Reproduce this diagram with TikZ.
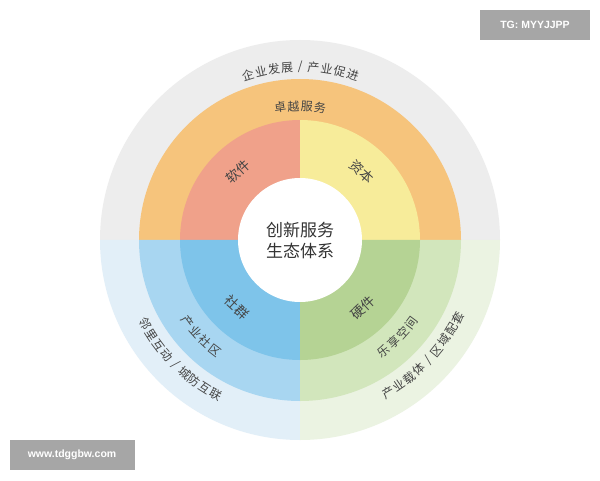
\documentclass[tikz,border=0pt]{standalone}
\usepackage{fontspec}
\usetikzlibrary{calc}
\setmainfont{Liberation Sans}
\newfontfamily\cjk{Noto Sans CJK SC}
\definecolor{outT}{HTML}{EDEDED}
\definecolor{outL}{HTML}{E2EFF8}
\definecolor{outR}{HTML}{EBF3E2}
\definecolor{midT}{HTML}{F6C47C}
\definecolor{midL}{HTML}{A8D6F1}
\definecolor{midR}{HTML}{D2E6BC}
\definecolor{inTL}{HTML}{F0A18A}
\definecolor{inTR}{HTML}{F7EC9A}
\definecolor{inBL}{HTML}{7EC4EA}
\definecolor{inBR}{HTML}{B5D394}
\definecolor{txt}{HTML}{444444}
\begin{document}
\begin{tikzpicture}[x=1pt,y=1pt,
  lab/.style={font=\cjk\fontsize{12}{12}\selectfont,text=txt,inner sep=0pt},
  inlab/.style={font=\cjk\fontsize{13.5}{13.5}\selectfont,text=txt,inner sep=0pt},
  wm/.style={fill=black!35,text=white,font=\fontsize{10.5}{10.5}\selectfont\bfseries,inner sep=0pt}]
\useasboundingbox (0,0) rectangle (600,480);
\fill[white] (0,0) rectangle (600,480);
\coordinate (c) at (300,240);
% outer ring
\fill[outT] (c) -- ++(0:200) arc (0:180:200) -- cycle;
\fill[outL] (c) -- ++(180:200) arc (180:270:200) -- cycle;
\fill[outR] (c) -- ++(270:200) arc (270:360:200) -- cycle;
% middle ring
\fill[midT] (c) -- ++(0:161) arc (0:180:161) -- cycle;
\fill[midL] (c) -- ++(180:161) arc (180:270:161) -- cycle;
\fill[midR] (c) -- ++(270:161) arc (270:360:161) -- cycle;
% inner quadrants
\fill[inTL] (c) -- ++(90:120) arc (90:180:120) -- cycle;
\fill[inTR] (c) -- ++(0:120) arc (0:90:120) -- cycle;
\fill[inBL] (c) -- ++(180:120) arc (180:270:120) -- cycle;
\fill[inBR] (c) -- ++(270:120) arc (270:360:120) -- cycle;
\fill[white] (c) circle (62);
\node[font=\cjk\fontsize{17}{21}\selectfont,align=center,text=black!80] (ctr) at (c) {创新服务\\生态体系};
% inner labels
\node[inlab,rotate=42] (sw) at ($(c)+(132:92)$) {软件};
\node[inlab,rotate=-42] (zb) at ($(c)+(48:92)$) {资本};
\node[inlab,rotate=-43] (sq) at ($(c)+(227:92)$) {社群};
\node[inlab,rotate=43] (yj) at ($(c)+(313:92)$) {硬件};
% middle ring labels
\foreach \ch [count=\i from 0] in {卓,越,服,务}
  {\pgfmathsetmacro\a{98.5-5.7*\i}\node[lab,rotate=\a-90] (m\i) at ($(c)+(\a:134)$) {\ch};}
\foreach \ch [count=\i from 0] in {产,业,社,区}
  {\pgfmathsetmacro\a{216+5.5*\i}\node[lab,rotate=\a+90] (p\i) at ($(c)+(\a:139)$) {\ch};}
\foreach \ch [count=\i from 0] in {乐,享,空,间}
  {\pgfmathsetmacro\a{307+5.5*\i}\node[lab,rotate=\a+90] (l\i) at ($(c)+(\a:139)$) {\ch};}
% outer labels
\foreach \ch [count=\i from 0] in {企,业,发,展,/,产,业,促,进}
  {\pgfmathsetmacro\a{107.5-4.4*\i}\node[lab,rotate=\a-90] (o\i) at ($(c)+(\a:173)$) {\ch};}
\foreach \ch [count=\i from 0] in {邻,里,互,动,/,城,防,互,联}
  {\pgfmathsetmacro\a{208.5+4.1*\i}\node[lab,rotate=\a+90] (b\i) at ($(c)+(\a:176)$) {\ch};}
\foreach \ch [count=\i from 0] in {产,业,载,体,/,区,域,配,套}
  {\pgfmathsetmacro\a{300+4.2*\i}\node[lab,rotate=\a+90] (r\i) at ($(c)+(\a:176)$) {\ch};}
% watermarks
\node[wm,minimum width=110,minimum height=30] (tg) at (535,455) {TG: MYYJJPP};
\node[wm,minimum width=125,minimum height=30] (www) at (72,25) {www.tdggbw.com};
\end{tikzpicture}
\end{document}
